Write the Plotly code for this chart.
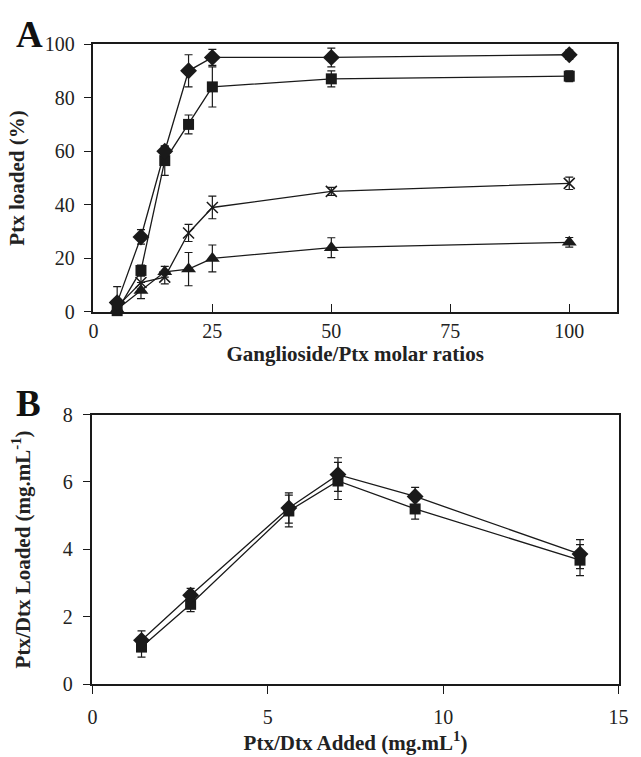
import plotly.graph_objects as go

# Panel A data
ratios = [5, 10, 15, 20, 25, 50, 100]
a_diamond = [3.5, 28, 60, 90, 95, 95, 96]
a_diamond_err = [6, 2.7, 1.8, 6, 3, 3.5, 1.7]
a_square = [0.5, 15.5, 56.5, 70, 84, 87, 88]
a_square_err = [2, 2, 5.5, 3.5, 7.5, 3, 2]
a_cross = [2, 11, 13, 29.5, 39, 45, 48]
a_cross_err = [2, 2.5, 2.5, 3.2, 4.2, 1.5, 2.3]
a_tri = [1, 8, 15, 16, 20, 24, 26]
a_tri_err = [1, 3, 2, 6.2, 5, 3.7, 1.8]

# Panel B data
added = [1.4, 2.8, 5.6, 7.0, 9.2, 13.9]
b_diamond = [1.3, 2.64, 5.23, 6.22, 5.57, 3.86]
b_diamond_err = [0.28, 0.2, 0.45, 0.5, 0.27, 0.43]
b_square = [1.1, 2.37, 5.14, 6.03, 5.2, 3.68]
b_square_err = [0.3, 0.22, 0.47, 0.55, 0.3, 0.46]

INK = "#1a1a1a"
FONT = "Liberation Serif"


def series(x, y, err, symbol, size, xa, ya, open_sym=False):
    marker = dict(symbol=symbol, size=size, color=INK)
    if open_sym:
        marker["line"] = dict(color=INK, width=1.5)
    return go.Scatter(
        x=x, y=y, mode="lines+markers", xaxis=xa, yaxis=ya,
        line=dict(color=INK, width=1.3), marker=marker,
        error_y=dict(type="data", array=err, visible=True, color=INK,
                     thickness=1.2, width=4),
        showlegend=False, cliponaxis=False)


fig = go.Figure()
fig.add_trace(series(ratios, a_tri, a_tri_err, "triangle-up", 13, "x", "y"))
fig.add_trace(series(ratios, a_cross, a_cross_err, "x-thin", 11, "x", "y", open_sym=True))
fig.add_trace(series(ratios, a_square, a_square_err, "square", 11, "x", "y"))
fig.add_trace(series(ratios, a_diamond, a_diamond_err, "diamond", 13, "x", "y"))

fig.add_trace(series(added, b_square, b_square_err, "square", 11, "x2", "y2"))
fig.add_trace(series(added, b_diamond, b_diamond_err, "diamond", 13, "x2", "y2"))

W, H = 641, 757


def px_x(p):
    return p / W


def px_y(p):
    return 1 - p / H


def axis_common(ticks="outside", standoff=3):
    return dict(
        showgrid=False, zeroline=False, showline=True, linecolor=INK, linewidth=1.5,
        mirror=True, ticks=ticks, ticklen=8, tickwidth=1.2, tickcolor=INK,
        ticklabelstandoff=standoff,
        tickfont=dict(family=FONT, size=20, color="#222"),
    )


title_font = dict(family=FONT, size=21, color="#222", weight="bold")

fig.update_layout(
    width=W, height=H, margin=dict(l=0, r=0, t=0, b=0),
    paper_bgcolor="white", plot_bgcolor="white",
    xaxis=dict(domain=[px_x(90.5), px_x(626.5)], range=[0, 110],
               tickvals=[0, 25, 50, 75, 100], anchor="y",
               title=dict(text="Ganglioside/Ptx molar ratios", font=title_font, standoff=0),
               **axis_common("inside", 0)),
    yaxis=dict(domain=[px_y(310), px_y(34)], range=[0, 100],
               tickvals=[0, 20, 40, 60, 80, 100], anchor="x",
               title=dict(text="Ptx loaded (%)", font=title_font, standoff=14),
               **axis_common("outside", 5)),
    xaxis2=dict(domain=[px_x(89.5), px_x(628.3)], range=[0, 15],
                tickvals=[0, 5, 10, 15], anchor="y2",
                title=dict(text="Ptx/Dtx Added (mg.mL<sup>1</sup>)", font=title_font, standoff=6),
                **axis_common("outside", 6)),
    yaxis2=dict(domain=[px_y(693.3), px_y(415.7)], range=[0, 8],
                tickvals=[0, 2, 4, 6, 8], anchor="x2",
                title=dict(text="Ptx/Dtx Loaded (mg.mL<sup>-1</sup>)", font=title_font, standoff=26),
                **axis_common("outside", 6)),
    annotations=[
        dict(text="<b>A</b>", x=px_x(25), y=px_y(24), xref="paper", yref="paper",
             xanchor="center", yanchor="middle", showarrow=False,
             font=dict(family=FONT, size=37, color="#111")),
        dict(text="<b>B</b>", x=px_x(24), y=px_y(404), xref="paper", yref="paper",
             xanchor="center", yanchor="middle", showarrow=False,
             font=dict(family=FONT, size=37, color="#111")),
    ],
)

fig.write_html("out.html")
